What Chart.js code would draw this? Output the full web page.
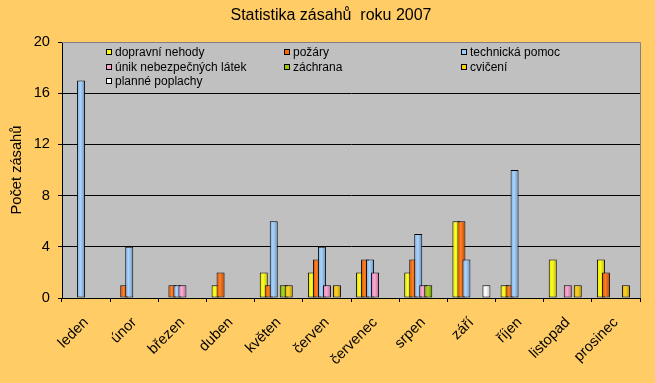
<!DOCTYPE html>
<html><head><meta charset="utf-8">
<script src="https://cdn.jsdelivr.net/npm/chart.js@4/dist/chart.umd.min.js"></script>
<style>
html,body{margin:0;padding:0;background:#FFCC66;}
#wrap{position:relative;width:655px;height:383px;overflow:hidden;background:#FFCC66;}
#title{position:absolute;left:0;top:6px;width:662px;text-align:center;font:16px 'Liberation Sans',Arial,sans-serif;white-space:pre;color:#000;}
.lg{position:absolute;font:12px 'Liberation Sans',Arial,sans-serif;line-height:14px;color:#000;white-space:nowrap;padding-left:9px;}
.lg i{position:absolute;left:0;top:4px;width:4px;height:4px;border:1px solid #000;}
canvas{position:absolute;left:0;top:0;}
</style></head>
<body><div id="wrap"><canvas id="c" width="655" height="383"></canvas><div id="title">Statistika zásahů  roku 2007</div></div>
<script>
const categories = ['leden','únor','březen','duben','květen','červen','červenec','srpen','září','říjen','listopad','prosinec'];
const seriesNames = ['dopravní nehody','požáry','technická pomoc','únik nebezpečných látek','záchrana','cvičení','planné poplachy'];
const dopravniNehody = [0,0,0,1,2,2,2,2,6,1,3,3];
const pozary         = [0,1,1,2,1,3,3,3,6,1,0,2];
const technickaPomoc = [17,4,1,0,6,4,3,5,3,10,0,0];
const unikLatek      = [0,0,1,0,0,1,2,1,0,0,1,0];
const zachrana       = [0,0,0,0,1,0,0,1,0,0,0,0];
const cviceni        = [0,0,0,0,1,1,0,0,0,0,1,1];
const planePoplachy  = [0,0,0,0,0,0,0,0,1,0,0,0];
const yTicks = [0,4,8,12,16,20];

const seriesValues = [dopravniNehody,pozary,technickaPomoc,unikLatek,zachrana,cviceni,planePoplachy];
const colors = ['#FFFF00','#FF6600','#99CCFF','#FF99CC','#99CC00','#FFCC00','#FFFFFF'];
const FONT = "'Liberation Sans', Arial, sans-serif";

// HTML legend (3 columns, inside plot area)
const colX = [106, 284, 461];
const rowY = [45, 60, 74];
const wrap = document.getElementById('wrap');
seriesNames.forEach((n, i) => {
  const d = document.createElement('div');
  d.className = 'lg';
  d.style.left = colX[i % 3] + 'px';
  d.style.top = rowY[Math.floor(i / 3)] + 'px';
  d.innerHTML = '<i style="background:' + colors[i] + '"></i>';
  d.appendChild(document.createTextNode(n));
  wrap.appendChild(d);
});

const bgPlugin = {
  id: 'bg',
  beforeDraw(chart) {
    const a = chart.chartArea, ctx = chart.ctx;
    ctx.save();
    ctx.fillStyle = '#C0C0C0';
    ctx.fillRect(a.left, a.top, a.right - a.left, a.bottom - a.top);
    ctx.restore();
  },
  afterDraw(chart) {
    const a = chart.chartArea, ctx = chart.ctx;
    ctx.save();
    ctx.strokeStyle = '#808080';
    ctx.lineWidth = 1;
    ctx.beginPath();
    ctx.moveTo(a.left, Math.round(a.top) + 0.5);
    ctx.lineTo(Math.round(a.right) + 0.5, Math.round(a.top) + 0.5);
    ctx.lineTo(Math.round(a.right) + 0.5, a.bottom);
    ctx.stroke();
    ctx.restore();
  }
};

// draw datasets in forward order so later series overlap earlier ones (as in Excel)
const orderPlugin = {
  id: 'order',
  beforeDatasetsDraw(chart) {
    const ctx = chart.ctx, a = chart.chartArea;
    ctx.save();
    ctx.beginPath();
    ctx.rect(a.left, a.top, a.right - a.left, a.bottom - a.top);
    ctx.clip();
    chart.getSortedVisibleDatasetMetas().forEach(meta => {
      meta.controller.draw();
      meta.data.forEach(el => {
        const p = el.getProps(['x','y','base','width'], true);
        if (!Number.isFinite(p.y) || !Number.isFinite(p.base)) return;
        const top = Math.min(p.y, p.base) + 1, bot = Math.max(p.y, p.base) - 1;
        if (bot - top < 1) return;
        const l = p.x - p.width / 2 + 1, r = p.x + p.width / 2 - 1;
        const g = ctx.createLinearGradient(l, 0, r, 0);
        g.addColorStop(0, 'rgba(0,0,0,0.06)');
        g.addColorStop(0.35, 'rgba(255,255,255,0.18)');
        g.addColorStop(1, 'rgba(0,0,0,0.22)');
        ctx.fillStyle = g;
        ctx.fillRect(l, top, r - l, bot - top);
      });
    });
    ctx.restore();
    return false;
  }
};

new Chart(document.getElementById('c'), {
  type: 'bar',
  data: {
    labels: categories,
    datasets: seriesValues.map((vals, i) => ({
      label: seriesNames[i],
      data: vals.map(v => v === 0 ? null : v),
      backgroundColor: colors[i],
      borderColor: '#000',
      borderWidth: 1,
      borderSkipped: false,
      categoryPercentage: 0.727,
      barPercentage: 1.6
    }))
  },
  options: {
    responsive: false,
    animation: false,
    devicePixelRatio: 1,
    layout: { padding: { left: 0, right: 15, top: 42, bottom: 0 } },
    plugins: { legend: { display: false }, title: { display: false }, tooltip: { enabled: false } },
    scales: {
      x: {
        grid: { display: true, drawOnChartArea: false, color: '#000', tickLength: 4, offset: true },
        border: { color: '#000', width: 1 },
        ticks: { autoSkip: false, minRotation: 45, maxRotation: 45, color: '#000', font: { family: FONT, size: 14.67 }, padding: 12 },
        afterFit(s) { s.height = 85; }
      },
      y: {
        min: 0, max: 20,
        afterBuildTicks(s) { s.ticks = yTicks.map(v => ({ value: v })); },
        grid: { color: '#000', lineWidth: 1, tickLength: 4, tickColor: '#000' },
        border: { color: '#000', width: 1 },
        ticks: { color: '#000', font: { family: FONT, size: 14.67 }, padding: 8 },
        title: { display: true, text: 'Počet zásahů', color: '#000', font: { family: FONT, size: 14.67 }, padding: { top: 8, bottom: 0 } },
        afterFit(s) { s.width = 62; }
      }
    }
  },
  plugins: [bgPlugin, orderPlugin]
});
</script></body></html>
